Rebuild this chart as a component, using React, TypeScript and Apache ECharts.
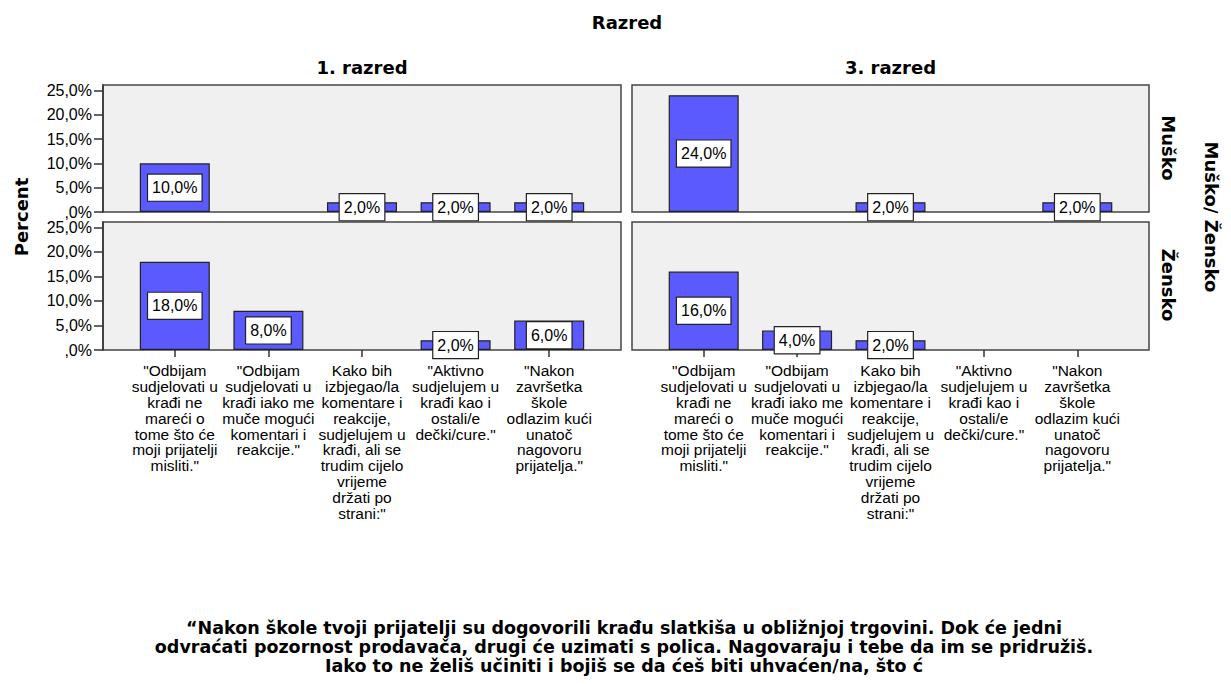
import React, { useEffect, useRef } from 'react';
import * as echarts from 'echarts';

const categories = [
  '"Odbijam\nsudjelovati u\nkrađi ne\nmareći o\ntome što će\nmoji prijatelji\nmisliti."',
  '"Odbijam\nsudjelovati u\nkrađi iako me\nmuče mogući\nkomentari i\nreakcije."',
  'Kako bih\nizbjegao/la\nkomentare i\nreakcije,\nsudjelujem u\nkrađi, ali se\ntrudim cijelo\nvrijeme\ndržati po\nstrani:"',
  '"Aktivno\nsudjelujem u\nkrađi kao i\nostali/e\ndečki/cure."',
  '"Nakon\nzavršetka\nškole\nodlazim kući\nunatoč\nnagovoru\nprijatelja."',
];

const maleGrade1 = [10, 0, 2, 2, 2];
const maleGrade3 = [24, 0, 2, 0, 2];
const femaleGrade1 = [18, 8, 0, 2, 6];
const femaleGrade3 = [16, 4, 2, 0, 0];

const yTicks = [0, 5, 10, 15, 20, 25];
const columnTitles = ['1. razred', '3. razred'];
const rowTitles = ['Muško', 'Žensko'];
const mainTitle = 'Razred';
const rowAxisTitle = 'Muško/ Žensko';
const yAxisTitle = 'Percent';
const footnoteLines = [
  '“Nakon škole tvoji prijatelji su dogovorili krađu slatkiša u obližnjoj trgovini. Dok će jedni',
  'odvraćati pozornost prodavača, drugi će uzimati s polica. Nagovaraju i tebe da im se pridružiš.',
  'Iako to ne želiš učiniti i bojiš se da ćeš biti uhvaćen/na, što ć',
];

const YMAX = 26.1;
const frameLeft = [103, 632];
const frameWidth = [518, 517];
const frameTop = [85, 222];
const frameHeight = [127, 128];
const INSET = 25;

const SMALL_FONT = '"Liberation Sans", Arial, sans-serif';
const HEAD_FONT = '"DejaVu Sans", Verdana, sans-serif';

const fmtPct = (v: number) => (v === 0 ? ',0%' : v.toFixed(1).replace('.', ',') + '%');

export default function App() {
  const ref = useRef<HTMLDivElement>(null);

  useEffect(() => {
    if (!ref.current) return;
    const chart = echarts.init(ref.current, null, { renderer: 'svg' });

    const panels = [
      { col: 0, row: 0, values: maleGrade1 },
      { col: 1, row: 0, values: maleGrade3 },
      { col: 0, row: 1, values: femaleGrade1 },
      { col: 1, row: 1, values: femaleGrade3 },
    ];

    const grid: any[] = [];
    const xAxis: any[] = [];
    const yAxis: any[] = [];
    const series: any[] = [];

    panels.forEach((p) => {
      grid.push({
        left: frameLeft[p.col],
        top: frameTop[p.row],
        width: frameWidth[p.col],
        height: frameHeight[p.row],
        show: true,
        backgroundColor: '#f0f0f0',
        borderColor: '#444',
        borderWidth: 1.5,
      });
    });
    panels.forEach((p) => {
      grid.push({
        left: frameLeft[p.col] + INSET,
        top: frameTop[p.row],
        width: frameWidth[p.col] - 2 * INSET,
        height: frameHeight[p.row],
        show: false,
      });
    });

    panels.forEach((p, i) => {
      xAxis.push({ gridIndex: i, type: 'value', show: false, min: 0, max: 1 });
      yAxis.push({
        gridIndex: i,
        type: 'value',
        min: 0,
        max: YMAX,
        show: p.col === 0,
        axisLine: { show: true, lineStyle: { color: '#333', width: 1.5 } },
        axisTick: { show: true, length: 9, customValues: yTicks, lineStyle: { color: '#333', width: 1.5 } },
        axisLabel: {
          customValues: yTicks,
          formatter: (v: number) => fmtPct(v),
          margin: 11,
          fontSize: 16,
          fontFamily: SMALL_FONT,
          color: '#000',
          padding: [6, 0, 0, 0],
        },
        splitLine: { show: false },
      });
    });

    panels.forEach((p, i) => {
      const gi = 4 + i;
      xAxis.push({
        gridIndex: gi,
        type: 'category',
        data: categories,
        axisLine: { show: false },
        axisTick: { show: p.row === 1, alignWithLabel: true, length: 7, lineStyle: { color: '#333', width: 1.5 } },
        axisLabel: {
          show: p.row === 1,
          interval: 0,
          fontSize: 15.5,
          lineHeight: 15.8,
          margin: 13,
          color: '#000',
          fontFamily: SMALL_FONT,
          align: 'center',
        },
        splitLine: { show: false },
      });
      yAxis.push({ gridIndex: gi, type: 'value', min: 0, max: YMAX, show: false, splitLine: { show: false } });
      series.push({
        type: 'bar',
        xAxisIndex: gi,
        yAxisIndex: gi,
        barWidth: 70,
        data: p.values.map((v) => (v > 0 ? v : null)),
        itemStyle: { color: '#5a5aff', borderColor: '#222', borderWidth: 1.2 },
        label: {
          show: true,
          position: 'inside',
          formatter: (d: any) => fmtPct(d.value),
          backgroundColor: '#fff',
          borderColor: '#222',
          borderWidth: 1.2,
          padding: [4, 4, 4, 4],
          fontSize: 16,
          lineHeight: 18,
          fontFamily: SMALL_FONT,
          color: '#000',
        },
      });
    });

    const headText = (text: string, x: number, y: number, rotation = 0, size = 18) => ({
      type: 'text',
      x,
      y,
      rotation,
      style: {
        text,
        fontSize: size,
        fontWeight: 'bold',
        fontFamily: HEAD_FONT,
        fill: '#000',
        align: 'center',
        verticalAlign: 'middle',
        textAlign: 'center',
        textVerticalAlign: 'middle',
      },
    });

    const graphic: any[] = [
      headText(mainTitle, 627, 22),
      headText(columnTitles[0], frameLeft[0] + frameWidth[0] / 2, 67),
      headText(columnTitles[1], frameLeft[1] + frameWidth[1] / 2, 67),
      headText(yAxisTitle, 21, 217, Math.PI / 2),
      headText(rowTitles[0], 1168, 148, -Math.PI / 2),
      headText(rowTitles[1], 1168, 285, -Math.PI / 2),
      headText(rowAxisTitle, 1211, 217, -Math.PI / 2),
      {
        type: 'text',
        x: 624,
        y: 618,
        style: {
          text: footnoteLines.join('\n'),
          fontSize: 17.5,
          lineHeight: 19,
          fontWeight: 'bold',
          fontFamily: HEAD_FONT,
          fill: '#000',
          align: 'center',
          verticalAlign: 'top',
          textAlign: 'center',
          textVerticalAlign: 'top',
        },
      },
    ];

    chart.setOption({
      animation: false,
      backgroundColor: '#fff',
      grid,
      xAxis,
      yAxis,
      series,
      graphic,
    });

    return () => chart.dispose();
  }, []);

  return (
    <div
      ref={ref}
      style={{ position: 'fixed', left: 0, top: 0, width: 1231, height: 684 }}
    />
  );
}
